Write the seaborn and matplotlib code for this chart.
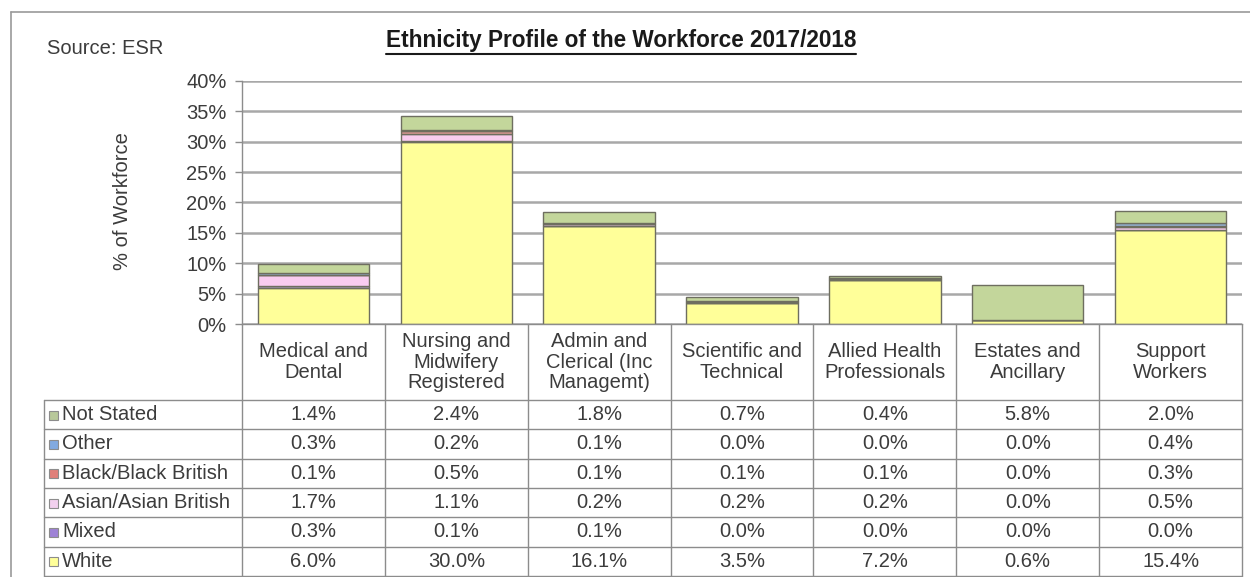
import matplotlib
matplotlib.use("Agg")
import matplotlib.pyplot as plt
import matplotlib.transforms as mtransforms
from matplotlib.lines import Line2D
from matplotlib.patches import Rectangle
from matplotlib.ticker import FuncFormatter
import numpy as np
import pandas as pd
import seaborn as sns

# ---- data -------------------------------------------------------------
categories = [
    "Medical and\nDental",
    "Nursing and\nMidwifery\nRegistered",
    "Admin and\nClerical (Inc\nManagemt)",
    "Scientific and\nTechnical",
    "Allied Health\nProfessionals",
    "Estates and\nAncillary",
    "Support\nWorkers",
]
white = [6.0, 30.0, 16.1, 3.5, 7.2, 0.6, 15.4]
mixed = [0.3, 0.1, 0.1, 0.0, 0.0, 0.0, 0.0]
asian = [1.7, 1.1, 0.2, 0.2, 0.2, 0.0, 0.5]
black = [0.1, 0.5, 0.1, 0.1, 0.1, 0.0, 0.3]
other = [0.3, 0.2, 0.1, 0.0, 0.0, 0.0, 0.4]
not_stated = [1.4, 2.4, 1.8, 0.7, 0.4, 5.8, 2.0]

# stacking order, bottom to top
series_names = ["White", "Mixed", "Asian/Asian British", "Black/Black British", "Other", "Not Stated"]
series_values = [white, mixed, asian, black, other, not_stated]
series_colors = ["#FFFF99", "#B3A2C7", "#F9CCF0", "#D99694", "#95B3D7", "#C3D69B"]
legend_colors = ["#FFFF99", "#9E82D6", "#F2D0EE", "#E0807A", "#82AAE0", "#B8C89A"]

y_ticks = [0, 5, 10, 15, 20, 25, 30, 35, 40]

# ---- style ------------------------------------------------------------
sns.set_theme(style="white")
plt.rcParams["font.family"] = ["Liberation Sans", "DejaVu Sans"]
TXT = "#3C3C3C"
GRID = "#A8A8A8"
LINE = "#8C8C8C"
FS = 14.5

W, H = 1250, 577
fig = plt.figure(figsize=(W / 100, H / 100), dpi=100)
fig.patch.set_facecolor("white")


def fx(px):
    return px / W


def fy(py):
    return 1 - py / H


ax_left, ax_right, ax_top, ax_bottom = 242, 1242, 81, 324
ax = fig.add_axes([fx(ax_left), fy(ax_bottom), fx(ax_right - ax_left), (ax_bottom - ax_top) / H])

# ---- stacked bars -----------------------------------------------------
cum = np.zeros(len(categories))
for name, vals, col in zip(series_names, series_values, series_colors):
    df = pd.DataFrame({"category": categories, "value": vals})
    sns.barplot(
        data=df, x="category", y="value", order=categories,
        color=col, saturation=1, width=0.78, bottom=cum.copy(),
        edgecolor="#6E6E60", linewidth=1.0, ax=ax, errorbar=None,
    )
    cum += np.array(vals)

ax.set_xlim(-0.5, len(categories) - 0.5)
ax.set_ylim(0, 40)
ax.set_yticks(y_ticks)
ax.yaxis.set_major_formatter(FuncFormatter(lambda v, _: f"{v:.0f}%"))
ax.set_xticks([])
ax.set_xlabel("")
ax.set_ylabel("")
ax.yaxis.grid(True, color=GRID, linewidth=1.8)
ax.set_axisbelow(True)
for s in ["top", "right"]:
    ax.spines[s].set_visible(False)
for s in ["left", "bottom"]:
    ax.spines[s].set_color(LINE)
    ax.spines[s].set_linewidth(1.0)
ax.tick_params(axis="y", which="major", direction="out", length=5, width=1,
               color=LINE, labelcolor=TXT, labelsize=FS, pad=6, left=True)

# ---- title, source, axis label ---------------------------------------
title = fig.text(fx(621), fy(41), "Ethnicity Profile of the Workforce 2017/2018",
                 ha="center", va="center", fontsize=16.3, fontweight="bold", color="#1A1A1A")
fig.text(fx(47), fy(48), "Source: ESR", ha="left", va="center", fontsize=FS, color=TXT)
fig.text(fx(122), fy(201), "% of Workforce", ha="center", va="center", rotation=90,
         fontsize=FS, color=TXT)

# outer frame (top and left edges)
fig.add_artist(Line2D([fx(11), fx(W)], [fy(12), fy(12)], transform=fig.transFigure,
                      color="#9A9A9A", lw=1.2))
fig.add_artist(Line2D([fx(11), fx(11)], [fy(12), fy(H)], transform=fig.transFigure,
                      color="#9A9A9A", lw=1.2))

# ---- data table -------------------------------------------------------
bt = mtransforms.blended_transform_factory(ax.transData, fig.transFigure)
n = len(categories)
header_top, header_bottom = 324, 400
row_h = 29.3
table_bottom = header_bottom + row_h * len(series_names)
legend_left = 44

# vertical column lines
for i in range(n + 1):
    fig.add_artist(Line2D([i - 0.5, i - 0.5], [fy(header_top), fy(table_bottom)],
                          transform=bt, color=LINE, lw=1.0))
# left edge of the legend column
fig.add_artist(Line2D([fx(legend_left), fx(legend_left)], [fy(header_bottom), fy(table_bottom)],
                      transform=fig.transFigure, color=LINE, lw=1.0))

# right end of the table in figure coords
x_right_fig = fig.transFigure.inverted().transform(ax.transData.transform((n - 0.5, 0)))[0]
for r in range(len(series_names) + 1):
    yy = fy(header_bottom + r * row_h)
    fig.add_artist(Line2D([fx(legend_left), x_right_fig], [yy, yy],
                          transform=fig.transFigure, color=LINE, lw=1.0))

# header labels
for i, cat in enumerate(categories):
    ax.text(i, fy((header_top + header_bottom) / 2), cat, transform=bt, ha="center", va="center",
            fontsize=FS, color=TXT, linespacing=1.1)

# rows: top to bottom is reverse of stacking order
rows = list(zip(series_names, series_values, legend_colors))[::-1]
for r, (name, vals, col) in enumerate(rows):
    yc = header_bottom + (r + 0.5) * row_h
    fig.add_artist(Rectangle((fx(49), fy(yc + 5)), fx(9), 9 / H, transform=fig.transFigure,
                             facecolor=col, edgecolor="#8C8C8C", lw=0.8))
    fig.text(fx(62), fy(yc), name, ha="left", va="center", fontsize=FS, color=TXT)
    for i, v in enumerate(vals):
        ax.text(i, fy(yc), f"{v:.1f}%", transform=bt, ha="center", va="center",
                fontsize=FS, color=TXT)

# underline the title
fig.canvas.draw()
bb = title.get_window_extent(fig.canvas.get_renderer())
uy = bb.y0 - 1
fig.add_artist(Line2D([bb.x0 / W, bb.x1 / W], [uy / H, uy / H], transform=fig.transFigure,
                      color="#1A1A1A", lw=1.5))

fig.savefig("out.png", dpi=100, facecolor="white")
